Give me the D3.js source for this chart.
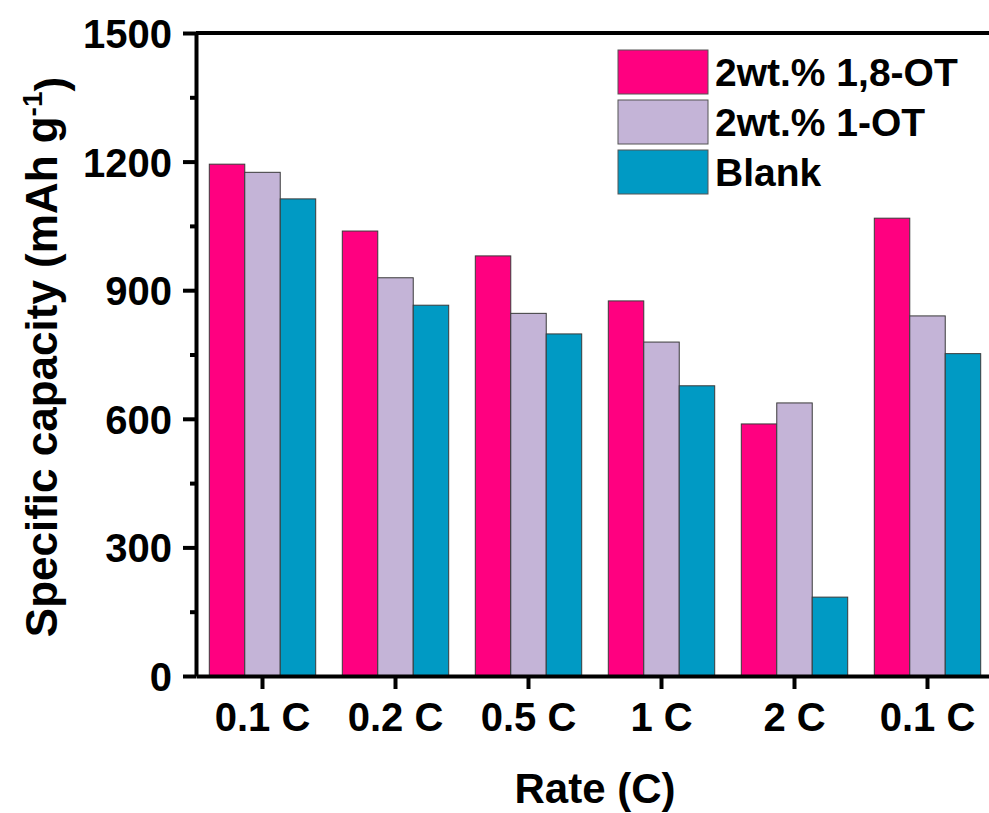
<!DOCTYPE html>
<html>
<head>
<meta charset="utf-8">
<script src="https://cdn.jsdelivr.net/npm/d3@7"></script>
<style>
  html, body { margin: 0; padding: 0; background: #fff; }
  svg { display: block; }
  text { font-family: "Liberation Sans", Arial, sans-serif; font-weight: bold; fill: #000; }
</style>
</head>
<body>
<svg id="chart" width="989" height="813"></svg>
<script>
// Rate categories (the last step returns to 0.1 C)
const rates = ["0.1 C", "0.2 C", "0.5 C", "1 C", "2 C", "0.1 C"];
const seriesNames = ["2wt.% 1,8-OT", "2wt.% 1-OT", "Blank"];
const seriesColors = ["#FF0080", "#C4B4D7", "#009AC4"];
// Specific capacity (mAh g-1) per rate
const capOT18 = [1194, 1038, 980, 875, 588, 1068];
const capOT1  = [1175, 929, 846, 779, 637, 840];
const capBlank = [1113, 865, 798, 677, 184, 752];
const yMajorTicks = [0, 300, 600, 900, 1200, 1500];
const yMinorTicks = [150, 450, 750, 1050, 1350];

const series = [capOT18, capOT1, capBlank];

const svg = d3.select("#chart");
const plotLeft = 196, plotRight = 994, plotTop = 33, plotBottom = 676;

const x = d3.scaleBand().domain(d3.range(rates.length)).range([plotLeft, plotRight])
  .paddingInner(0.2).paddingOuter(0.1);
const xs = d3.scaleBand().domain(d3.range(series.length)).range([0, x.bandwidth()]);
const y = d3.scaleLinear().domain([0, 1500]).range([plotBottom, plotTop]);

// Bars
const groups = svg.append("g").selectAll("g").data(rates).join("g")
  .attr("transform", (d, i) => `translate(${x(i)},0)`);
groups.selectAll("rect")
  .data((d, i) => series.map((s, k) => ({ k, v: s[i] })))
  .join("rect")
  .attr("x", d => xs(d.k))
  .attr("y", d => y(d.v))
  .attr("width", xs.bandwidth())
  .attr("height", d => plotBottom - y(d.v))
  .attr("fill", d => seriesColors[d.k])
  .attr("stroke", "#3a3a3a")
  .attr("stroke-width", 1);

// Frame top line
svg.append("line").attr("x1", plotLeft).attr("x2", plotRight).attr("y1", plotTop).attr("y2", plotTop)
  .attr("stroke", "#000").attr("stroke-width", 4);

// Y axis: major ticks with labels, minor ticks without
const yAxis = svg.append("g").attr("transform", `translate(${plotLeft},0)`)
  .call(d3.axisLeft(y).tickValues(yMajorTicks).tickFormat(d3.format("d"))
    .tickSize(13).tickPadding(11).tickSizeOuter(0));
svg.append("g").attr("transform", `translate(${plotLeft},0)`)
  .call(d3.axisLeft(y).tickValues(yMinorTicks).tickSize(6).tickFormat("").tickSizeOuter(0))
  .select(".domain").remove();

// X axis
const xAxis = svg.append("g").attr("transform", `translate(0,${plotBottom})`)
  .call(d3.axisBottom(x).tickFormat(i => rates[i]).tickSize(13).tickPadding(14).tickSizeOuter(0));

svg.selectAll(".domain").attr("stroke", "#000").attr("stroke-width", 4);
svg.selectAll(".tick line").attr("stroke", "#000").attr("stroke-width", 4);
yAxis.selectAll("text").style("font-size", "40px").attr("dy", "0.36em");
xAxis.selectAll("text").style("font-size", "40px");

// Axis titles
svg.append("text").attr("x", 595).attr("y", 803).attr("text-anchor", "middle")
  .style("font-size", "42px").text("Rate (C)");

const yt = svg.append("text").attr("transform", "translate(57,357) rotate(-90)")
  .attr("text-anchor", "middle").style("font-size", "44px");
yt.append("tspan").text("Specific capacity (mAh g");
yt.append("tspan").attr("dy", "-0.55em").style("font-size", "28px").text("-1");
yt.append("tspan").attr("dy", "0.55em").text(")");

// Legend
const legend = svg.append("g").selectAll("g").data(seriesNames).join("g")
  .attr("transform", (d, i) => `translate(618,${50 + i * 50})`);
legend.append("rect").attr("width", 90).attr("height", 44)
  .attr("fill", (d, i) => seriesColors[i]).attr("stroke", "#555").attr("stroke-width", 1);
legend.append("text").attr("x", 97).attr("y", 36).style("font-size", "39px").text(d => d);
</script>
</body>
</html>
